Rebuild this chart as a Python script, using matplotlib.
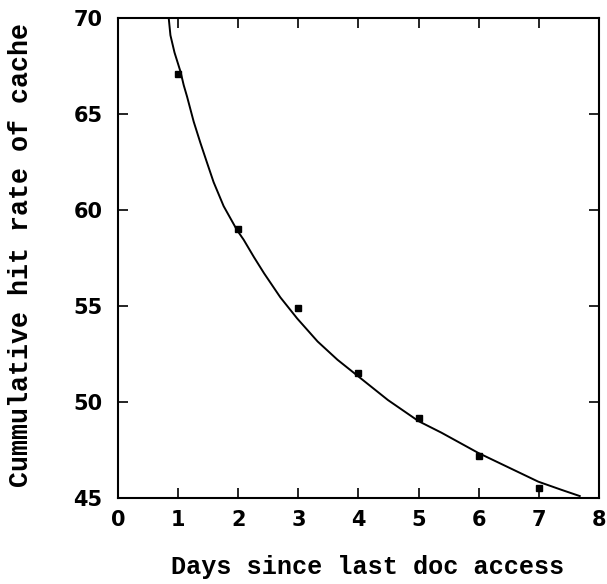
import matplotlib
matplotlib.use("Agg")
import matplotlib.pyplot as plt

# Curve
curve_days = [0.845, 0.872, 0.94, 1.04, 1.093, 1.149, 1.259, 1.37, 1.482, 1.59, 1.757,
              1.98, 2.09, 2.26, 2.43, 2.70, 2.98, 3.32, 3.65, 4.01, 4.49, 5.00, 5.38,
              5.99, 6.49, 6.99, 7.38, 7.68]
curve_hit = [69.95, 69.1, 68.2, 67.2, 66.5, 65.9, 64.6, 63.5, 62.45, 61.45, 60.2,
             58.95, 58.45, 57.55, 56.7, 55.45, 54.35, 53.15, 52.2, 51.3, 50.1, 49.0, 48.4,
             47.35, 46.6, 45.85, 45.42, 45.1]

# Measured points (squares)
point_days = [1, 2, 3, 4, 5, 6, 7]
point_hit = [67.1, 59.0, 54.9, 51.5, 49.15, 47.2, 45.5]

x_ticks = [0, 1, 2, 3, 4, 5, 6, 7, 8]
y_ticks = [45, 50, 55, 60, 65, 70]

fig = plt.figure(figsize=(6.07, 5.84), dpi=100)
ax = fig.add_axes([0.1944, 0.1473, 0.7924, 0.8219])

ax.plot(curve_days, curve_hit, color="black", linewidth=1.4)
ax.plot(point_days, point_hit, linestyle="none", marker="s", markersize=4.5,
        color="black")

ax.set_xlim(0, 8)
ax.set_ylim(45, 70)
ax.set_xticks(x_ticks)
ax.set_yticks(y_ticks)

for s in ax.spines.values():
    s.set_linewidth(1.5)

ax.tick_params(direction="in", length=7, width=1.2, top=True, right=True,
               labelsize=15)
ax.tick_params(axis="y", pad=11)
ax.tick_params(axis="x", pad=9)
for lab in ax.get_xticklabels() + ax.get_yticklabels():
    lab.set_fontfamily("DejaVu Sans")
    lab.set_fontweight("bold")

fig.text(368 / 607, 1 - 567 / 584, "Days since last doc access",
         fontfamily="Liberation Mono", fontweight="bold", fontsize=18.2,
         ha="center", va="center")
fig.text(21 / 607, 1 - 255 / 584, "Cummulative hit rate of cache",
         fontfamily="Liberation Mono", fontweight="bold", fontsize=19.2,
         ha="center", va="center", rotation=90)

fig.savefig("out.png", dpi=100)
